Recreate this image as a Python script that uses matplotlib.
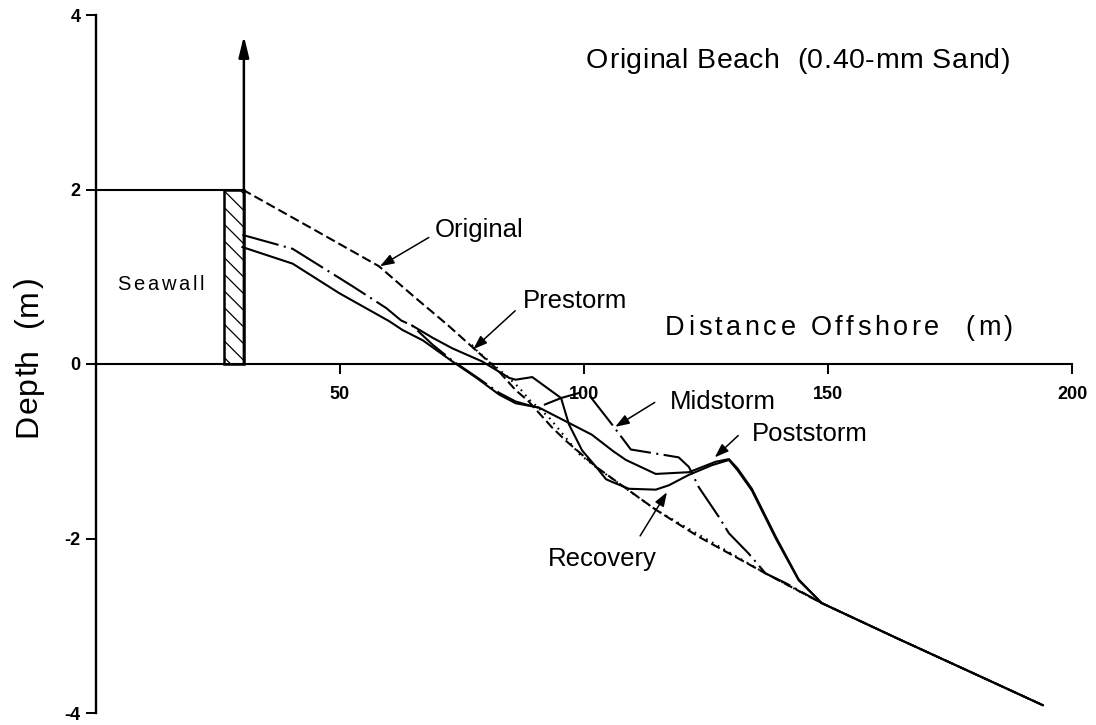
import matplotlib
matplotlib.use('Agg')
import matplotlib.pyplot as plt
from matplotlib.patches import Rectangle
from matplotlib.font_manager import FontProperties, findfont
from matplotlib.textpath import TextToPath
from matplotlib.transforms import offset_copy

# beach profiles, distance offshore (m) vs elevation (m)
original_x = [30, 45, 58, 65, 72, 77, 82, 86, 88.5, 93.5, 96.3, 102.5, 114.7, 123.5, 137.2, 148.7, 164.4, 180, 194]
original_y = [2.0, 1.53, 1.12, 0.78, 0.45, 0.2, -0.05, -0.3, -0.42, -0.73, -0.88, -1.18, -1.67, -1.98, -2.4, -2.74, -3.15, -3.55, -3.91]

prestorm_x = [77, 77.9, 80.6, 84, 86.7, 88.8, 92.8, 99, 102.4, 114.7, 137.2, 148.7]
prestorm_y = [0.22, 0.16, 0.03, -0.13, -0.27, -0.41, -0.61, -1.03, -1.18, -1.67, -2.4, -2.74]

midstorm_x = [30, 40.3, 52.6, 59.5, 62.5, 64.8, 69, 73, 78, 82.6, 86, 90.4, 95.3, 100.4, 105.7, 109.6,
              114, 119.4, 121.5, 123.5, 127.6, 129.7, 133.7, 137.2, 141.3, 148.7]
midstorm_y = [1.48, 1.32, 0.89, 0.64, 0.5, 0.44, 0.22, 0.04, -0.15, -0.33, -0.43, -0.5, -0.39, -0.31, -0.69, -0.98,
              -1.02, -1.07, -1.18, -1.41, -1.75, -1.94, -2.17, -2.4, -2.51, -2.74]

poststorm_x = [30, 40.3, 49.9, 60.1, 62.8, 67, 73, 78, 82.6, 86, 90.8, 101.6, 106, 108.6, 114.7, 121.5,
               127, 129.7, 131.5, 134.4, 139.3, 144, 148.7, 164.4, 180, 194]
poststorm_y = [1.34, 1.15, 0.81, 0.49, 0.39, 0.27, 0.03, -0.16, -0.35, -0.45, -0.5, -0.81, -1.0, -1.1, -1.26, -1.24,
               -1.12, -1.09, -1.2, -1.43, -1.98, -2.47, -2.74, -3.15, -3.55, -3.91]

recovery_x = [64.8, 69, 73, 79.1, 84.7, 86, 89.4, 95.3, 96.9, 99.6, 102.5, 104.5, 105.7, 109.2, 114.7,
              117.4, 121.5, 126.2, 129.7, 131.5, 134.4, 139.3, 144, 148.7, 164.4, 180, 194]
recovery_y = [0.44, 0.3, 0.18, 0.03, -0.16, -0.18, -0.15, -0.39, -0.69, -0.99, -1.18, -1.32, -1.35, -1.43, -1.44,
              -1.39, -1.27, -1.16, -1.1, -1.22, -1.45, -2.0, -2.48, -2.74, -3.15, -3.55, -3.91]

wall_x = [26.2, 30.3]
wall_top = 2.0
arrow_top = 3.76

x_ticks = [50, 100, 150, 200]
y_ticks = [-4, -2, 0, 2, 4]
y_tick_labels = ['-4', '-2', '0', '2', '4']

# profile name, label position, arrow start, arrow tip
labels = [
    ('Original', (69.5, 1.455), (68.2, 1.45), (58.2, 1.12)),
    ('Prestorm', (87.5, 0.64), (85.9, 0.61), (77.3, 0.17)),
    ('Midstorm', (117.6, -0.515), (114.5, -0.44), (106.4, -0.72)),
    ('Poststorm', (134.4, -0.88), (131.6, -0.82), (126.8, -1.07)),
    ('Recovery', (92.6, -2.31), (111.5, -1.97), (117.0, -1.47)),
]

plt.rcParams['axes.unicode_minus'] = False
plt.rcParams['hatch.linewidth'] = 0.9

try:
    findfont('Liberation Sans Narrow', fallback_to_default=False)
    NARROW = 'Liberation Sans Narrow'
except ValueError:
    NARROW = 'Liberation Sans'

fig = plt.figure(figsize=(10.96, 7.25), dpi=100)
ax = fig.add_axes([96 / 1096, 12 / 725, 976 / 1096, 698 / 725])
ax.set_xlim(0, 200)
ax.set_ylim(-4, 4)

for side in ['top', 'right']:
    ax.spines[side].set_visible(False)
ax.spines['bottom'].set_position(('data', 0))
ax.spines['left'].set_linewidth(1.7)
ax.spines['bottom'].set_linewidth(1.5)

ax.set_xticks(x_ticks)
ax.set_xticklabels([str(t) for t in x_ticks])
ax.set_yticks(y_ticks)
ax.set_yticklabels(y_tick_labels)
ax.tick_params(axis='x', direction='out', length=7, width=1.4, pad=9)
ax.tick_params(axis='y', direction='out', length=7, width=1.4, pad=4)
for lab in ax.get_xticklabels() + ax.get_yticklabels():
    lab.set_fontfamily('Liberation Sans')
    lab.set_fontweight('bold')
    lab.set_fontsize(13)

lw = 1.5
ax.plot(original_x, original_y, color='black', lw=lw, dashes=(4.6, 2.0))
ax.plot(prestorm_x, prestorm_y, color='black', lw=lw, dashes=(0.8, 2.4))
ax.plot(midstorm_x, midstorm_y, color='black', lw=lw, dashes=(18, 2.6, 1.0, 2.6))
ax.plot(poststorm_x, poststorm_y, color='black', lw=lw)
ax.plot(recovery_x, recovery_y, color='black', lw=lw)

# seawall
ax.plot([0, wall_x[1]], [wall_top, wall_top], color='black', lw=1.5)
ax.add_patch(Rectangle((wall_x[0], 0), wall_x[1] - wall_x[0], wall_top,
                       fill=False, hatch='\\\\', lw=1.8, edgecolor='black'))
ax.annotate('', xy=(wall_x[1], arrow_top), xytext=(wall_x[1], 0),
            arrowprops=dict(arrowstyle='-|>,head_length=0.9,head_width=0.22',
                            lw=1.8, color='black', shrinkA=0, shrinkB=0, mutation_scale=14))

for name, pos, start, tip in labels:
    ax.text(pos[0], pos[1], name, fontsize=18.5, family='Liberation Sans', va='baseline', ha='left')
    ax.annotate('', xy=tip, xytext=start,
                arrowprops=dict(arrowstyle='-|>,head_length=0.7,head_width=0.25',
                                lw=1.1, color='black', shrinkA=0, shrinkB=0,
                                mutation_scale=12, facecolor='white'))

tp = TextToPath()


def spaced(x, y, s, size, span, rotation=0):
    # letter-spaced text, characters laid out one by one to fill `span` points
    fp = FontProperties(family=NARROW, size=size)
    widths = []
    for ch in s:
        if ch == ' ':
            widths.append(size * 0.28)
        else:
            widths.append(tp.get_text_width_height_descent(ch, fp, ismath=False)[0])
    gap = (span - sum(widths)) / (len(s) - 1)
    pos = 0.0
    for ch, w in zip(s, widths):
        if rotation:
            tr = offset_copy(ax.transData, fig=fig, x=0, y=pos, units='points')
        else:
            tr = offset_copy(ax.transData, fig=fig, x=pos, y=0, units='points')
        ax.text(x, y, ch, transform=tr, fontproperties=fp, rotation=rotation,
                rotation_mode='anchor', ha='left', va='baseline', clip_on=False)
        pos += w + gap


spaced(100.4, 3.39, 'Original Beach  (0.40-mm Sand)', 20.5, 424 * 0.72)
spaced(116.6, 0.33, 'Distance Offshore  (m)', 19.5, 348 * 0.72)
spaced(4.3, 0.85, 'Seawall', 14.5, 87 * 0.72)
spaced(-12.2, -0.84, 'Depth  (m)', 23, 160 * 0.72, rotation=90)

fig.savefig('out.png', dpi=100)
